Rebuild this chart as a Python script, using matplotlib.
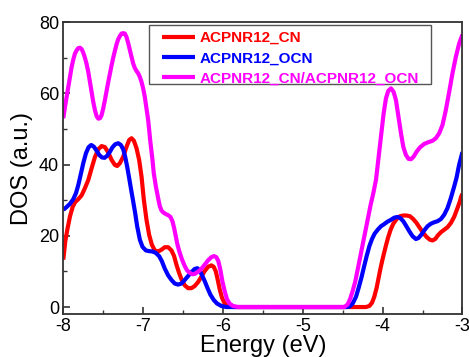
import matplotlib
matplotlib.use("Agg")
import matplotlib.pyplot as plt
from matplotlib.ticker import MultipleLocator
from matplotlib.patches import Rectangle

plt.rcParams['font.family'] = ['Liberation Sans', 'DejaVu Sans']

# ACPNR12_CN (red)
e_cn = [-8.0, -7.975, -7.95, -7.916, -7.883, -7.854, -7.812, -7.770, -7.729, -7.687, -7.645,
        -7.604, -7.562, -7.520, -7.479, -7.437, -7.395, -7.354, -7.325, -7.291, -7.25,
        -7.208, -7.175, -7.145, -7.116, -7.083, -7.05, -7.02, -6.991, -6.958, -6.925,
        -6.891, -6.854, -6.812, -6.770, -6.729, -6.687, -6.645, -6.612, -6.583, -6.55,
        -6.516, -6.479, -6.437, -6.395, -6.354, -6.312, -6.271, -6.229, -6.187, -6.145,
        -6.116, -6.091, -6.066, -6.041, -6.012, -5.979, -5.937, -5.875, -5.8,
        -4.291, -4.208, -4.166, -4.133, -4.104, -4.075, -4.05, -4.025, -4.0, -3.966,
        -3.933, -3.9, -3.866, -3.825, -3.783, -3.741, -3.7, -3.658, -3.616, -3.575,
        -3.533, -3.491, -3.45, -3.408, -3.375, -3.341, -3.308, -3.270, -3.229, -3.187,
        -3.145, -3.104, -3.062, -3.033, -3.016, -3.0]
dos_cn = [13.3, 18.5, 21.7, 25.5, 28.1, 29.4, 30.3, 31.4, 33.4, 35.7, 39.0,
          42.1, 44.3, 45.2, 44.9, 43.4, 41.3, 39.9, 39.6, 40.4, 42.2,
          45.0, 46.9, 47.4, 46.7, 44.6, 41.3, 36.6, 30.1, 24.5, 20.3,
          17.5, 15.9, 15.6, 16.1, 16.8, 16.8, 15.9, 14.3, 11.9, 9.6,
          7.6, 6.1, 5.3, 5.3, 5.9, 7.0, 8.5, 10.1, 11.3, 11.7,
          11.3, 10.1, 7.7, 5.0, 2.6, 1.0, 0.3, 0.0, 0.0,
          0.0, 0.0, 0.3, 1.2, 2.9, 5.4, 8.2, 11.0, 13.5, 16.6,
          19.4, 21.7, 23.4, 24.7, 25.5, 25.7, 25.7, 25.5, 24.7, 23.6,
          22.2, 20.8, 19.7, 18.9, 18.7, 19.1, 20.1, 21.0, 21.7, 22.4,
          23.6, 25.3, 27.8, 29.6, 31.0, 31.8]

# ACPNR12_OCN (blue)
e_ocn = [-8.0, -7.958, -7.916, -7.875, -7.841, -7.812, -7.783, -7.75, -7.716, -7.683,
         -7.650, -7.616, -7.583, -7.550, -7.516, -7.483, -7.45, -7.416, -7.383, -7.350,
         -7.312, -7.279, -7.25, -7.225, -7.2, -7.175, -7.15, -7.125, -7.1, -7.075,
         -7.041, -7.008, -6.966, -6.925, -6.883, -6.841, -6.8, -6.766, -6.729, -6.687,
         -6.645, -6.604, -6.562, -6.520, -6.479, -6.437, -6.395, -6.354, -6.320, -6.291,
         -6.262, -6.229, -6.195, -6.158, -6.116, -6.075, -6.020, -5.958,
         -4.541, -4.458, -4.416, -4.375, -4.333, -4.3, -4.266, -4.233, -4.2, -4.166,
         -4.133, -4.1, -4.062, -4.020, -3.979, -3.937, -3.895, -3.854, -3.812, -3.779,
         -3.741, -3.708, -3.666, -3.625, -3.583, -3.55, -3.516, -3.479, -3.437, -3.395,
         -3.354, -3.312, -3.270, -3.229, -3.187, -3.145, -3.104, -3.075, -3.041, -3.0]
dos_ocn = [27.3, 28.1, 29.0, 30.3, 32.0, 34.3, 37.1, 40.4, 43.2, 44.9,
           45.5, 45.0, 43.9, 42.7, 42.0, 41.9, 42.5, 43.6, 44.9, 45.7,
           46.0, 45.5, 44.3, 42.2, 39.4, 36.2, 32.9, 29.7, 26.4, 22.7,
           18.9, 16.9, 15.9, 15.7, 15.6, 15.2, 14.3, 12.9, 10.8, 8.9,
           7.6, 6.6, 6.3, 6.6, 7.6, 8.7, 9.8, 10.7, 10.9, 10.3,
           8.9, 7.3, 5.4, 3.5, 2.0, 1.0, 0.3, 0.0,
           0.0, 0.0, 0.1, 1.0, 2.9, 5.4, 8.2, 11.3, 14.3, 17.1,
           19.1, 20.6, 21.7, 22.7, 23.3, 24.0, 24.5, 25.1, 25.3, 25.0,
           24.1, 22.9, 21.3, 19.9, 19.1, 19.4, 20.3, 21.5, 22.7, 23.4,
           23.8, 24.1, 24.7, 25.9, 27.8, 30.6, 33.8, 36.2, 40.0, 43.5]

# ACPNR12_CN/ACPNR12_OCN (magenta)
e_mix = [-8.0, -7.979, -7.958, -7.937, -7.916, -7.896, -7.875, -7.854, -7.833, -7.812,
         -7.791, -7.770, -7.75, -7.729, -7.708, -7.687, -7.666, -7.645, -7.625, -7.604,
         -7.583, -7.562, -7.541, -7.520, -7.5, -7.479, -7.458, -7.437, -7.416, -7.395,
         -7.375, -7.354, -7.333, -7.312, -7.291, -7.270, -7.25, -7.229, -7.208, -7.187,
         -7.166, -7.145, -7.125, -7.104, -7.083, -7.062, -7.041, -7.02, -7.0, -6.979,
         -6.958, -6.937, -6.91, -6.883, -6.867, -6.854, -6.841, -6.825, -6.808, -6.791,
         -6.770, -6.750, -6.716, -6.687, -6.658, -6.633, -6.612, -6.591, -6.570, -6.541,
         -6.512, -6.479, -6.45, -6.416, -6.383, -6.354, -6.312, -6.271, -6.229, -6.187,
         -6.145, -6.112, -6.083, -6.058, -6.033, -6.008, -5.979, -5.95, -5.916, -5.875,
         -5.812, -5.729,
         -4.541, -4.479, -4.437, -4.408, -4.375, -4.341, -4.312, -4.283, -4.25, -4.216,
         -4.183, -4.15, -4.116, -4.083, -4.05, -4.016, -3.987, -3.958, -3.929, -3.895,
         -3.862, -3.833, -3.804, -3.770, -3.741, -3.708, -3.675, -3.645, -3.612, -3.575,
         -3.533, -3.479, -3.425, -3.375, -3.333, -3.291, -3.25, -3.208, -3.166, -3.125,
         -3.083, -3.041, -3.012, -3.0]
dos_mix = [53.0, 56.2, 59.0, 61.8, 64.6, 67.4, 69.5, 71.2, 72.1, 72.7,
           72.8, 72.4, 71.4, 70.0, 68.2, 66.0, 63.2, 60.4, 57.6, 55.3,
           53.6, 52.9, 53.0, 53.9, 55.8, 58.1, 60.7, 63.2, 65.6, 67.9,
           70.0, 71.9, 73.8, 75.2, 76.1, 76.8, 76.9, 76.8, 75.8, 74.1,
           72.1, 70.2, 68.4, 67.1, 66.3, 65.6, 64.6, 63.2, 61.4, 59.0,
           55.8, 52.5, 46.5, 41.3, 37.6, 35.7, 33.9, 32.0, 30.1, 28.3,
           27.1, 26.6, 26.1, 25.8, 25.3, 24.1, 22.2, 19.9, 17.5, 15.2,
           13.3, 11.5, 10.3, 9.6, 9.2, 9.3, 9.9, 10.7, 11.9, 13.1,
           14.0, 14.3, 14.0, 12.9, 10.5, 7.3, 4.5, 2.2, 0.95, 0.3,
           0.0, 0.0,
           0.0, 0.0, 0.75, 2.2, 4.5, 7.3, 10.5, 13.8, 17.5, 21.3,
           25.0, 28.7, 32.0, 35.7, 42.2, 48.8, 54.4, 58.6, 60.7, 61.4,
           60.4, 58.1, 53.9, 48.8, 45.0, 42.7, 41.6, 41.5, 42.2, 43.6,
           44.8, 45.8, 46.3, 46.7, 47.4, 48.8, 51.1, 55.3, 60.4, 65.6,
           70.2, 74.0, 75.8, 76.5]

labels = ["ACPNR12_CN", "ACPNR12_OCN", "ACPNR12_CN/ACPNR12_OCN"]
colors = ["#ff0000", "#0000ff", "#ff00ff"]

fig = plt.figure(figsize=(4.69, 3.57), dpi=100)
ax = fig.add_axes([0.135, 0.120, 0.851, 0.818])

series = [(e_cn, dos_cn), (e_ocn, dos_ocn), (e_mix, dos_mix)]
for (x, y), lab, c in zip(series, labels, colors):
    ax.plot(x, y, color=c, lw=3.0, label=lab, solid_joinstyle='round',
            solid_capstyle='butt')

ax.set_xlim(-8, -3)
ax.set_ylim(-2, 80)
ax.xaxis.set_major_locator(MultipleLocator(1))
ax.xaxis.set_minor_locator(MultipleLocator(0.5))
ax.yaxis.set_major_locator(MultipleLocator(20))
ax.yaxis.set_minor_locator(MultipleLocator(10))
ax.tick_params(which='both', direction='in', top=False, right=False,
               labelsize=13, colors='#333333', labelcolor='black')
ax.tick_params(which='major', length=5, width=1.2, pad=3)
ax.tick_params(which='minor', length=3, width=1.0)
ax.set_xticks([-8, -7, -6, -5, -4, -3])
ax.set_xticklabels(['-8', '-7', '-6', '-5', '-4', '-3'])
for s in ax.spines.values():
    s.set_color('#333333')
    s.set_linewidth(1.3)

ax.set_xlabel("Energy (eV)", fontsize=17, labelpad=0)
ax.set_ylabel("DOS (a.u.)", fontsize=17, labelpad=4)

# legend frame drawn as a plain rectangle (wider side padding than vertical)
ax.add_patch(Rectangle((0.2148, 0.7877), 0.7067, 0.2020, transform=ax.transAxes,
                       facecolor='white', edgecolor='#555555', lw=1.0, zorder=4))
leg = ax.legend(loc='upper left', bbox_to_anchor=(0.247, 0.969), borderaxespad=0,
                frameon=False, handlelength=2.15, handletextpad=0.33,
                labelspacing=0.40, borderpad=0.0,
                prop={'weight': 'bold', 'size': 11})
leg.set_zorder(5)
for t, c in zip(leg.get_texts(), colors):
    t.set_color(c)

fig.savefig("out.png", dpi=100)
